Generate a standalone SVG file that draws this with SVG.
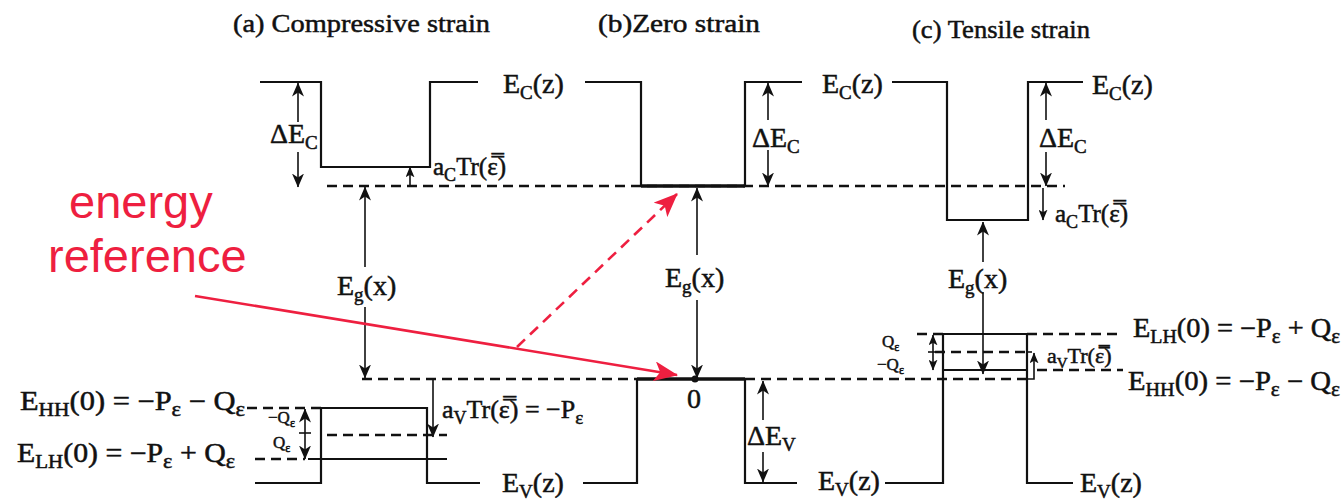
<svg xmlns="http://www.w3.org/2000/svg" width="1343" height="503" viewBox="0 0 1343 503">
<style>
.ln{fill:none;stroke:#111;stroke-width:2.2}
.thick{fill:none;stroke:#111;stroke-width:3.5}
.dash{fill:none;stroke:#111;stroke-width:2.6;stroke-dasharray:10 6}
.arr{fill:none;stroke:#111;stroke-width:1.6}
.t{font-family:"Liberation Serif","DejaVu Serif",serif;fill:#111;stroke:#111;stroke-width:0.5}
.lb{font-size:28px}
.sm{font-size:17px}
.red{font-family:"Liberation Sans",Arial,sans-serif;font-size:47px;fill:#ee1f40}
.rl{fill:none;stroke:#ee1f40;stroke-width:2.6}
</style>
<defs>
<marker id="ah" viewBox="0 0 14 12" refX="13.5" refY="6" markerWidth="14" markerHeight="12" markerUnits="userSpaceOnUse" orient="auto-start-reverse"><path d="M0,0 L14,6 L0,12 L4,6 z" fill="#111"/></marker>
<marker id="ahs" viewBox="0 0 12 10" refX="11.5" refY="5" markerWidth="11" markerHeight="9" markerUnits="userSpaceOnUse" orient="auto-start-reverse"><path d="M0,0 L12,5 L0,10 L3,5 z" fill="#111"/></marker>
<marker id="ahr" viewBox="0 0 24 20" refX="23" refY="10" markerWidth="24" markerHeight="20" markerUnits="userSpaceOnUse" orient="auto"><path d="M0,0 L24,10 L0,20 L6,10 z" fill="#ee1f40"/></marker>
</defs>

<g id="titles">
<text class="t" x="233" y="32" font-size="26" textLength="257" lengthAdjust="spacingAndGlyphs">(a) Compressive strain</text>
<text class="t" x="598" y="32" font-size="26" textLength="162" lengthAdjust="spacingAndGlyphs">(b)Zero strain</text>
<text class="t" x="912" y="38" font-size="26" textLength="178" lengthAdjust="spacingAndGlyphs">(c) Tensile strain</text>
</g>

<g id="reference-levels">
<path class="dash" d="M327,186 H1065"/>
<path class="dash" d="M362,379 H637 M745,379 H1030"/>
</g>

<g id="conduction-band">
<path class="ln" d="M260,82 H321 V167 H430 V82 H478"/>
<path class="ln" d="M585,82 H641 V186 H745 V82 H802"/>
<path class="thick" d="M641,186 H745"/>
<path class="ln" d="M892,82 H947 V220 H1028 V82 H1083"/>
</g>

<g id="valence-band">
<path class="ln" d="M255,483 H321 V408 H427 V483 H480"/>
<path class="ln" d="M583,483 H637 V379 H745 V483 H797"/>
<path class="thick" d="M637,379 H745"/>
<path class="ln" d="M885,483 H943 V334 H1027 V483 H1073"/>
<path class="ln" d="M308,459 H447"/>
<path class="dash" d="M327,435 H447"/>
<path class="dash" d="M247,408 H321"/>
<path class="dash" d="M255,459 H305"/>
<path class="dash" d="M917,334 H943 M1027,334 H1117"/>
<path class="dash" d="M935,352 H1027"/>
<path class="ln" d="M943,370 H1027"/>
<path class="dash" d="M1037,370 H1123"/>
</g>

<g id="connectors">
<path class="arr" d="M298,122 V83" marker-end="url(#ah)"/>
<path class="arr" d="M298,152 V187" marker-end="url(#ah)"/>
<path class="arr" d="M410,186 V167" marker-end="url(#ahs)"/>
<path class="arr" d="M365,267 V187" marker-end="url(#ah)"/>
<path class="arr" d="M365,307 V378" marker-end="url(#ah)"/>
<path class="arr" d="M433,379 V437" marker-end="url(#ah)"/>
<path class="arr" d="M305,433 V409" marker-end="url(#ah)"/>
<path class="arr" d="M305,433 V459" marker-end="url(#ah)"/>
<path class="arr" d="M299,433 H311"/>
<path class="arr" d="M768,120 V83" marker-end="url(#ah)"/>
<path class="arr" d="M768,150 V186" marker-end="url(#ah)"/>
<path class="arr" d="M697,255 V188" marker-end="url(#ah)"/>
<path class="arr" d="M697,300 V378" marker-end="url(#ah)"/>
<circle cx="695" cy="379" r="3.5" fill="#111"/>
<path class="arr" d="M763,420 V381" marker-end="url(#ah)"/>
<path class="arr" d="M763,452 V482" marker-end="url(#ah)"/>
<path class="arr" d="M1046,120 V83" marker-end="url(#ah)"/>
<path class="arr" d="M1046,152 V186" marker-end="url(#ah)"/>
<path class="arr" d="M1043,188 V220" marker-end="url(#ahs)"/>
<path class="arr" d="M983,262 V222" marker-end="url(#ah)"/>
<path class="arr" d="M983,292 V374" marker-end="url(#ah)"/>
<path class="arr" d="M933,352 V335" marker-end="url(#ahs)"/>
<path class="arr" d="M933,352 V370" marker-end="url(#ahs)"/>
<path class="arr" d="M928,352 H938"/>
<path class="arr" d="M1027,379 H1034 V353" marker-end="url(#ahs)"/>
<path class="arr" d="M1027,352 H1032"/>
<path class="rl" d="M195,296 L677,375" marker-end="url(#ahr)"/>
<path class="rl" d="M517,347 L677,194" stroke-dasharray="11 7" marker-end="url(#ahr)"/>
</g>

<g id="labels">
<text class="t lb" x="503" y="93">E<tspan font-size="19" dy="6">C</tspan><tspan dy="-6">(z)</tspan></text>
<text class="t lb" x="822" y="93">E<tspan font-size="19" dy="6">C</tspan><tspan dy="-6">(z)</tspan></text>
<text class="t lb" x="1092" y="94">E<tspan font-size="19" dy="6">C</tspan><tspan dy="-6">(z)</tspan></text>
<text class="t lb" x="270" y="143">ΔE<tspan font-size="19" dy="6">C</tspan></text>
<text class="t lb" x="752" y="147">ΔE<tspan font-size="19" dy="6">C</tspan></text>
<text class="t lb" x="1039" y="147">ΔE<tspan font-size="19" dy="6">C</tspan></text>
<text class="t" font-size="25" x="433" y="175">a<tspan font-size="18" dy="6">C</tspan><tspan dy="-6">Tr(ε̿)</tspan></text>
<text class="t" font-size="25" x="1055" y="222">a<tspan font-size="18" dy="6">C</tspan><tspan dy="-6">Tr(ε̿)</tspan></text>
<text class="t lb" x="337" y="295">E<tspan font-size="19" dy="6">g</tspan><tspan dy="-6">(x)</tspan></text>
<text class="t lb" x="665" y="287">E<tspan font-size="19" dy="6">g</tspan><tspan dy="-6">(x)</tspan></text>
<text class="t lb" x="948" y="288">E<tspan font-size="19" dy="6">g</tspan><tspan dy="-6">(x)</tspan></text>
<text class="t lb" x="687" y="408">0</text>
<text class="t lb" x="747" y="445">ΔE<tspan font-size="19" dy="6">V</tspan></text>
<text class="t lb" x="502" y="492">E<tspan font-size="19" dy="6">V</tspan><tspan dy="-6">(z)</tspan></text>
<text class="t lb" x="818" y="490">E<tspan font-size="19" dy="6">V</tspan><tspan dy="-6">(z)</tspan></text>
<text class="t lb" x="1080" y="492">E<tspan font-size="19" dy="6">V</tspan><tspan dy="-6">(z)</tspan></text>
<text class="t" font-size="26" x="442" y="418">a<tspan font-size="18" dy="6">V</tspan><tspan dy="-6">Tr(ε̿) = −P</tspan><tspan font-size="19" dy="6">ε</tspan></text>
<text class="t" font-size="22" x="1047" y="363">a<tspan font-size="15" dy="5">V</tspan><tspan dy="-5">Tr(ε̿)</tspan></text>
<text class="t" font-size="27" x="20" y="410" textLength="225" lengthAdjust="spacingAndGlyphs">E<tspan font-size="19" dy="6">HH</tspan><tspan dy="-6">(0) = −P</tspan><tspan font-size="20" dy="6">ε</tspan><tspan dy="-6"> − Q</tspan><tspan font-size="20" dy="6">ε</tspan></text>
<text class="t" font-size="27" x="17" y="462" textLength="218" lengthAdjust="spacingAndGlyphs">E<tspan font-size="19" dy="6">LH</tspan><tspan dy="-6">(0) = −P</tspan><tspan font-size="20" dy="6">ε</tspan><tspan dy="-6"> + Q</tspan><tspan font-size="20" dy="6">ε</tspan></text>
<text class="t" font-size="27" x="1133" y="337" textLength="207" lengthAdjust="spacingAndGlyphs">E<tspan font-size="19" dy="6">LH</tspan><tspan dy="-6">(0) = −P</tspan><tspan font-size="20" dy="6">ε</tspan><tspan dy="-6"> + Q</tspan><tspan font-size="20" dy="6">ε</tspan></text>
<text class="t" font-size="27" x="1128" y="390" textLength="212" lengthAdjust="spacingAndGlyphs">E<tspan font-size="19" dy="6">HH</tspan><tspan dy="-6">(0) = −P</tspan><tspan font-size="20" dy="6">ε</tspan><tspan dy="-6"> − Q</tspan><tspan font-size="20" dy="6">ε</tspan></text>
<text class="t sm" x="268" y="423">−Q<tspan font-size="12" dy="4">ε</tspan></text>
<text class="t sm" x="273" y="448">Q<tspan font-size="12" dy="4">ε</tspan></text>
<text class="t sm" x="882" y="347">Q<tspan font-size="12" dy="4">ε</tspan></text>
<text class="t sm" x="877" y="370">−Q<tspan font-size="12" dy="4">ε</tspan></text>
</g>

<g id="annotation">
<text class="red" x="69" y="218">energy</text>
<text class="red" x="48" y="272">reference</text>
</g>
</svg>
